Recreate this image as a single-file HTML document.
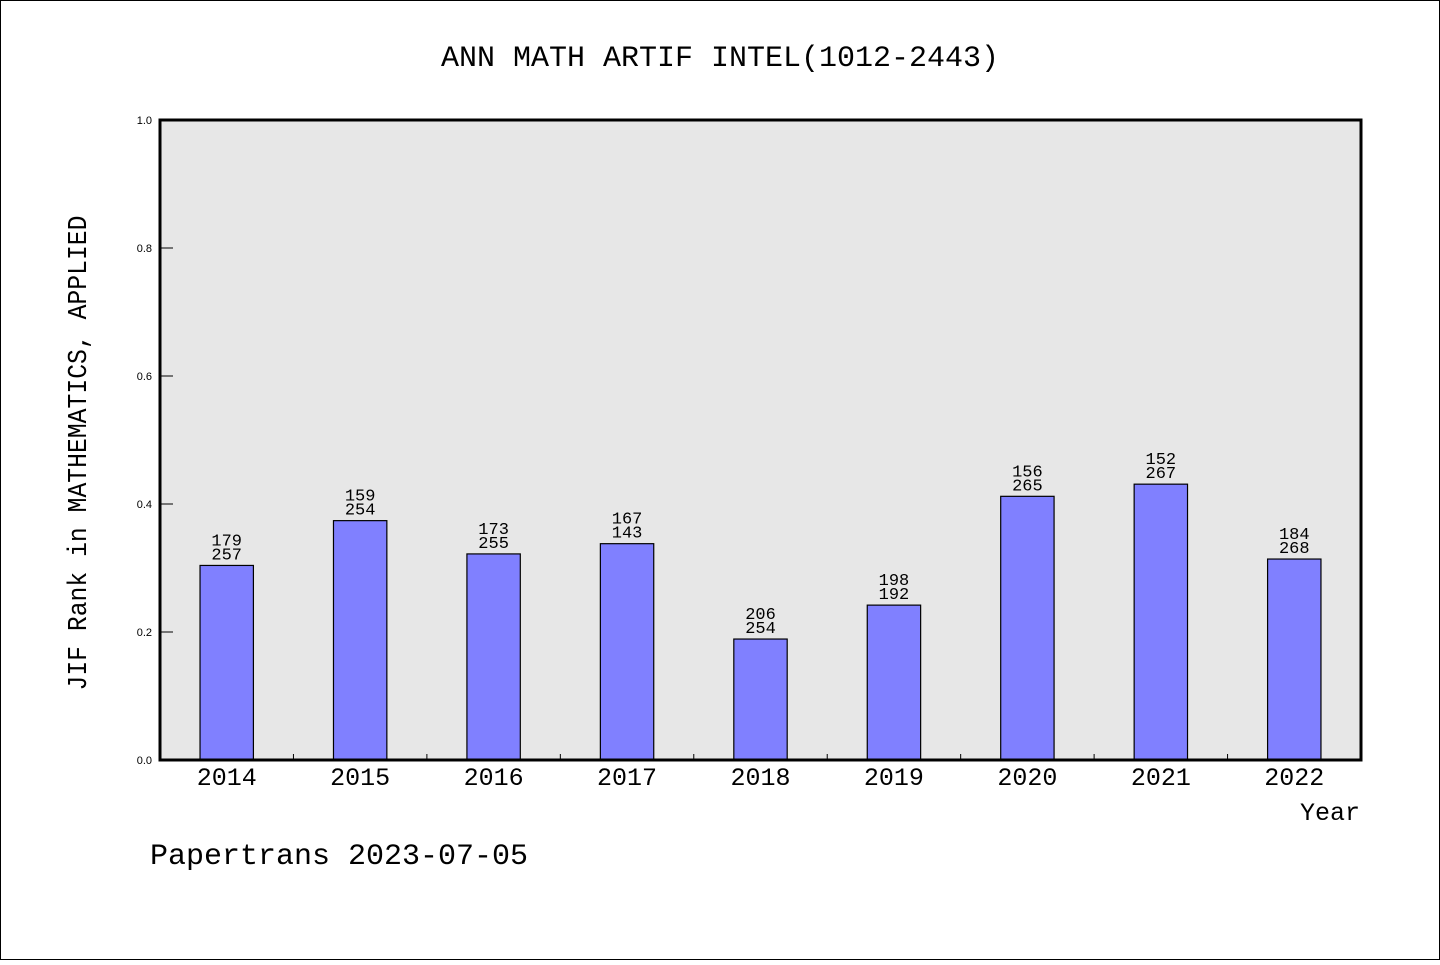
<!DOCTYPE html>
<html><head><meta charset="utf-8"><style>
html,body{margin:0;padding:0;background:#fff}
svg text{font-family:"Liberation Mono",monospace;fill:#000}
svg text.tick{font-family:"Liberation Sans",sans-serif}
</style></head><body>
<svg width="1440" height="960" viewBox="0 0 1440 960">
<rect x="0.5" y="0.5" width="1439" height="959" fill="#fff" stroke="#000"/>
<text x="720" y="66" text-anchor="middle" font-size="30">ANN MATH ARTIF INTEL(1012-2443)</text>
<rect x="160" y="120" width="1201" height="640" fill="#e7e7e7"/>
<g id="bars"></g>
<g id="axes"></g>
<rect x="160" y="120" width="1201" height="640" fill="none" stroke="#000" stroke-width="3"/>
<text transform="translate(86,453) rotate(-90)" text-anchor="middle" font-size="27" textLength="475" lengthAdjust="spacingAndGlyphs">JIF Rank in MATHEMATICS, APPLIED</text>
<text x="1360" y="820" text-anchor="end" font-size="25">Year</text>
<text x="150" y="864" font-size="30">Papertrans 2023-07-05</text>
</svg>
<script>
const years=["2014","2015","2016","2017","2018","2019","2020","2021","2022"];
const values=[0.304,0.374,0.322,0.338,0.189,0.242,0.412,0.431,0.314];
const ranks=["179","159","173","167","206","198","156","152","184"];
const totals=["257","254","255","143","254","192","265","267","268"];
const yTicks=[0,0.2,0.4,0.6,0.8,1.0];
const NS="http://www.w3.org/2000/svg";
const X0=160,X1=1361,Y0=760,Y1=120;
const band=(X1-X0)/years.length;
const xc=i=>X0+band*(i+0.5);
const y=v=>Y0-(v/1)*(Y0-Y1);
function mk(t,a,p){const e=document.createElementNS(NS,t);for(const k in a)e.setAttribute(k,a[k]);p.appendChild(e);return e;}
const bars=document.getElementById('bars'),axes=document.getElementById('axes');
years.forEach((yr,i)=>{
 const w=band*0.4;
 const r=mk('rect',{x:xc(i)-w/2,y:y(values[i]),width:w,height:Y0-y(values[i]),fill:'#8080ff',stroke:'#000','stroke-width':1.2},bars);
 
 
 const t1=mk('text',{x:xc(i),y:y(values[i])-20,'text-anchor':'middle','font-size':17},bars);t1.textContent=ranks[i];
 
 
 const t2=mk('text',{x:xc(i),y:y(values[i])-6,'text-anchor':'middle','font-size':17},bars);t2.textContent=totals[i];
 
 
 const xl=mk('text',{x:xc(i),y:785,'text-anchor':'middle','font-size':25},axes);xl.textContent=yr;
 
 
 if(i>0){const tk=mk('line',{x1:X0+band*i,x2:X0+band*i,y1:Y0,y2:Y0-6,stroke:'#000','stroke-width':1},axes);
 
 }
});
yTicks.forEach(v=>{
 const l=mk('line',{x1:X0,x2:X0+13,y1:y(v),y2:y(v),stroke:'#000','stroke-width':1},axes);
 
 
 const t=mk('text',{x:X0-8,y:y(v)+4,'text-anchor':'end','font-size':11,'class':'tick'},axes);
 t.textContent=v.toFixed(1);
 
 
});
</script>
</body></html>
